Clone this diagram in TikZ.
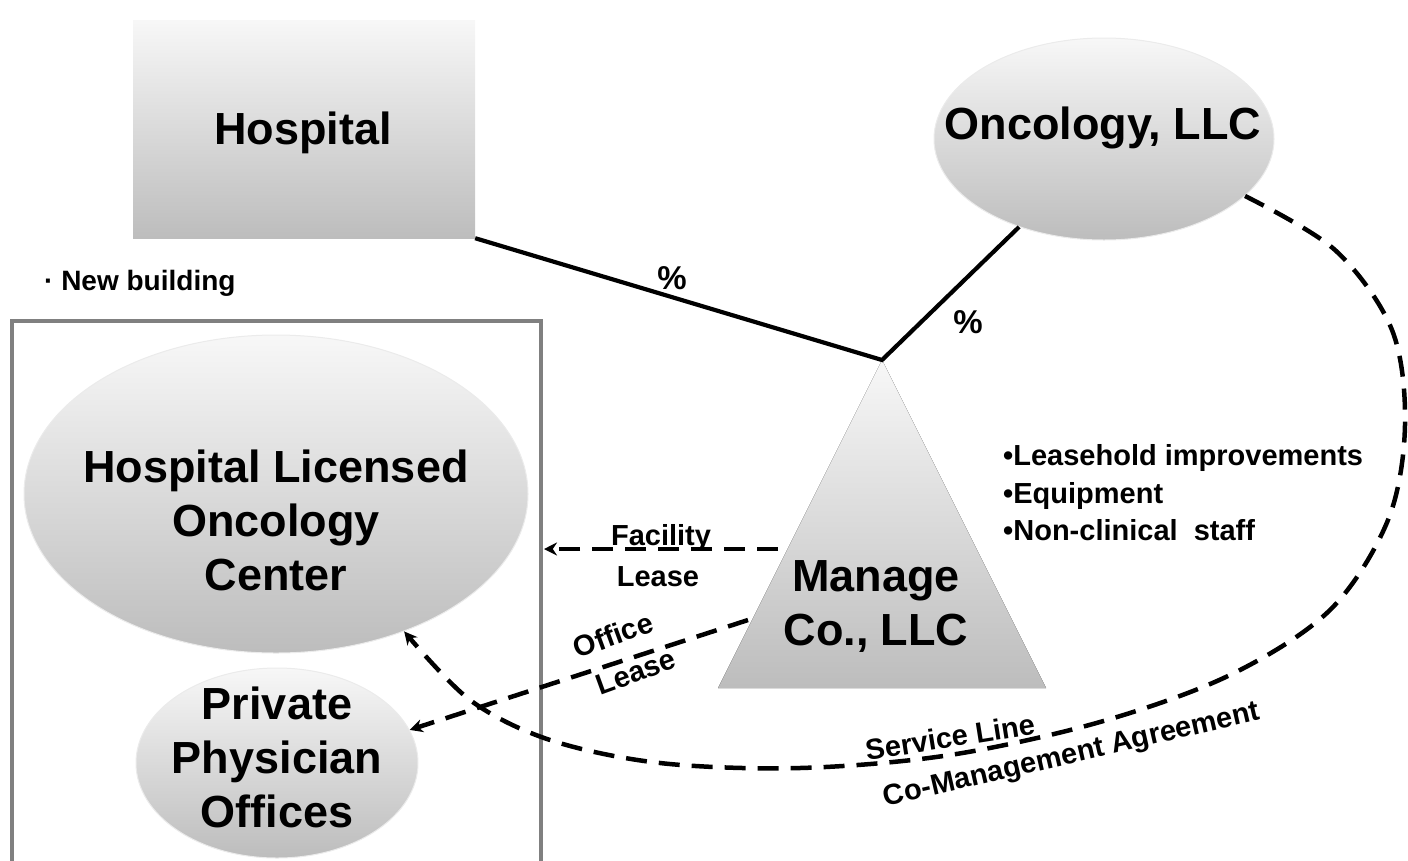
\documentclass[tikz,border=0pt]{standalone}
\usepackage{fontspec}
\setmainfont{Liberation Sans}
\usetikzlibrary{shapes.geometric,arrows.meta}
\begin{document}
\begin{tikzpicture}[x=1pt,y=-1pt,
  shadefill/.style={top color=white!97!black, bottom color=black!26},
  ell/.style={ellipse, shadefill, inner sep=0pt, draw=white!92!black, line width=1pt},
  bigtxt/.style={font=\bfseries\fontsize{45}{54}\selectfont, align=center, inner sep=0pt},
  smalltxt/.style={font=\bfseries\fontsize{29}{37.5}\selectfont, inner sep=0pt},
  solidline/.style={line width=4.2pt, black},
  dashline/.style={line width=4.5pt, black, dash pattern=on 21pt off 12pt},
  tip/.style={-{Stealth[length=13pt,width=13pt]}}
]
\useasboundingbox (0,0) rectangle (1408,860);
\clip (0,0) rectangle (1408,860);

% Hospital box
\node[shadefill, minimum width=342pt, minimum height=218pt, inner sep=0pt] (hosp) at (304,129) {};
\node[bigtxt] (hosptxt) at (303,133) {Hospital};

% Oncology LLC
\node[ell, minimum width=340pt, minimum height=202pt] (onc) at (1104,139) {};
\node[bigtxt] (onctxt) at (1103,128) {Oncology, LLC};

% New building
\node[font=\bfseries\fontsize{28}{32}\selectfont, anchor=west, inner sep=0pt] (newb) at (44,283) {\textperiodcentered\ New building};

% frame
\node[draw=black!50, line width=3.5pt, minimum width=529pt, minimum height=600pt, anchor=north west, inner sep=0pt, outer sep=0pt] (frame) at (12,321) {};

% Hospital Licensed Oncology Center
\node[ell, minimum width=504pt, minimum height=318pt] (hloc) at (276,494) {};
\node[bigtxt] (hloctxt) at (276,520) {Hospital Licensed\\Oncology\\Center};

% Private Physician Offices
\node[ell, minimum width=282pt, minimum height=190pt] (priv) at (277,763) {};
\node[bigtxt] (privtxt) at (277,757) {Private\\Physician\\Offices};

% Manage Co triangle
\coordinate (apex) at (882,360);
\coordinate (bl) at (718,688);
\coordinate (br) at (1046,688);
\fill[shadefill] (apex) -- (br) -- (bl) -- cycle;
\node[bigtxt] (mgtxt) at (876,606) {Manage\\Co., LLC};

% ownership lines
\draw[solidline] (hosp.south east) -- (apex) -- (onc.-134);
\node[font=\bfseries\fontsize{33}{36}\selectfont, inner sep=0pt] (pct1) at (672,278) {\%};
\node[font=\bfseries\fontsize{33}{36}\selectfont, inner sep=0pt] (pct2) at (968,322) {\%};

% Facility lease
\coordinate (facS) at (778,549);
\draw[dashline, tip] (facS) -- ([xshift=3pt]facS -| frame.east);
\node[smalltxt] (fac1) at (661,538) {Facility};
\node[smalltxt] (fac2) at (658,577) {Lease};

% Office lease
\coordinate (offS) at (748,620);
\draw[dashline, tip] (offS) -- (priv.14);
\node[smalltxt, rotate=20] (off1) at (613,635) {Office};
\node[smalltxt, rotate=20] (off2) at (636,672) {Lease};

% bullets
\node[smalltxt, anchor=west, align=left] (bul) at (1003,493) {\textbullet Leasehold improvements\\\textbullet Equipment\\\textbullet Non-clinical\ \ staff};

% service line curve
\draw[dashline, tip] plot[smooth, tension=0.55] coordinates {(onc.-22) (1335,250) (1392,330) (1405,425) (1388,520) (1330,610) (1230,675) (1100,722) (950,755) (800,768) (660,763) (550,740) (470,700) (hloc.-47.6)};
\node[smalltxt, rotate=9] (sl1) at (950,737) {Service Line};
\node[smalltxt, rotate=13] (sl2) at (1072,756) {Co-Management Agreement};
\end{tikzpicture}
\end{document}
